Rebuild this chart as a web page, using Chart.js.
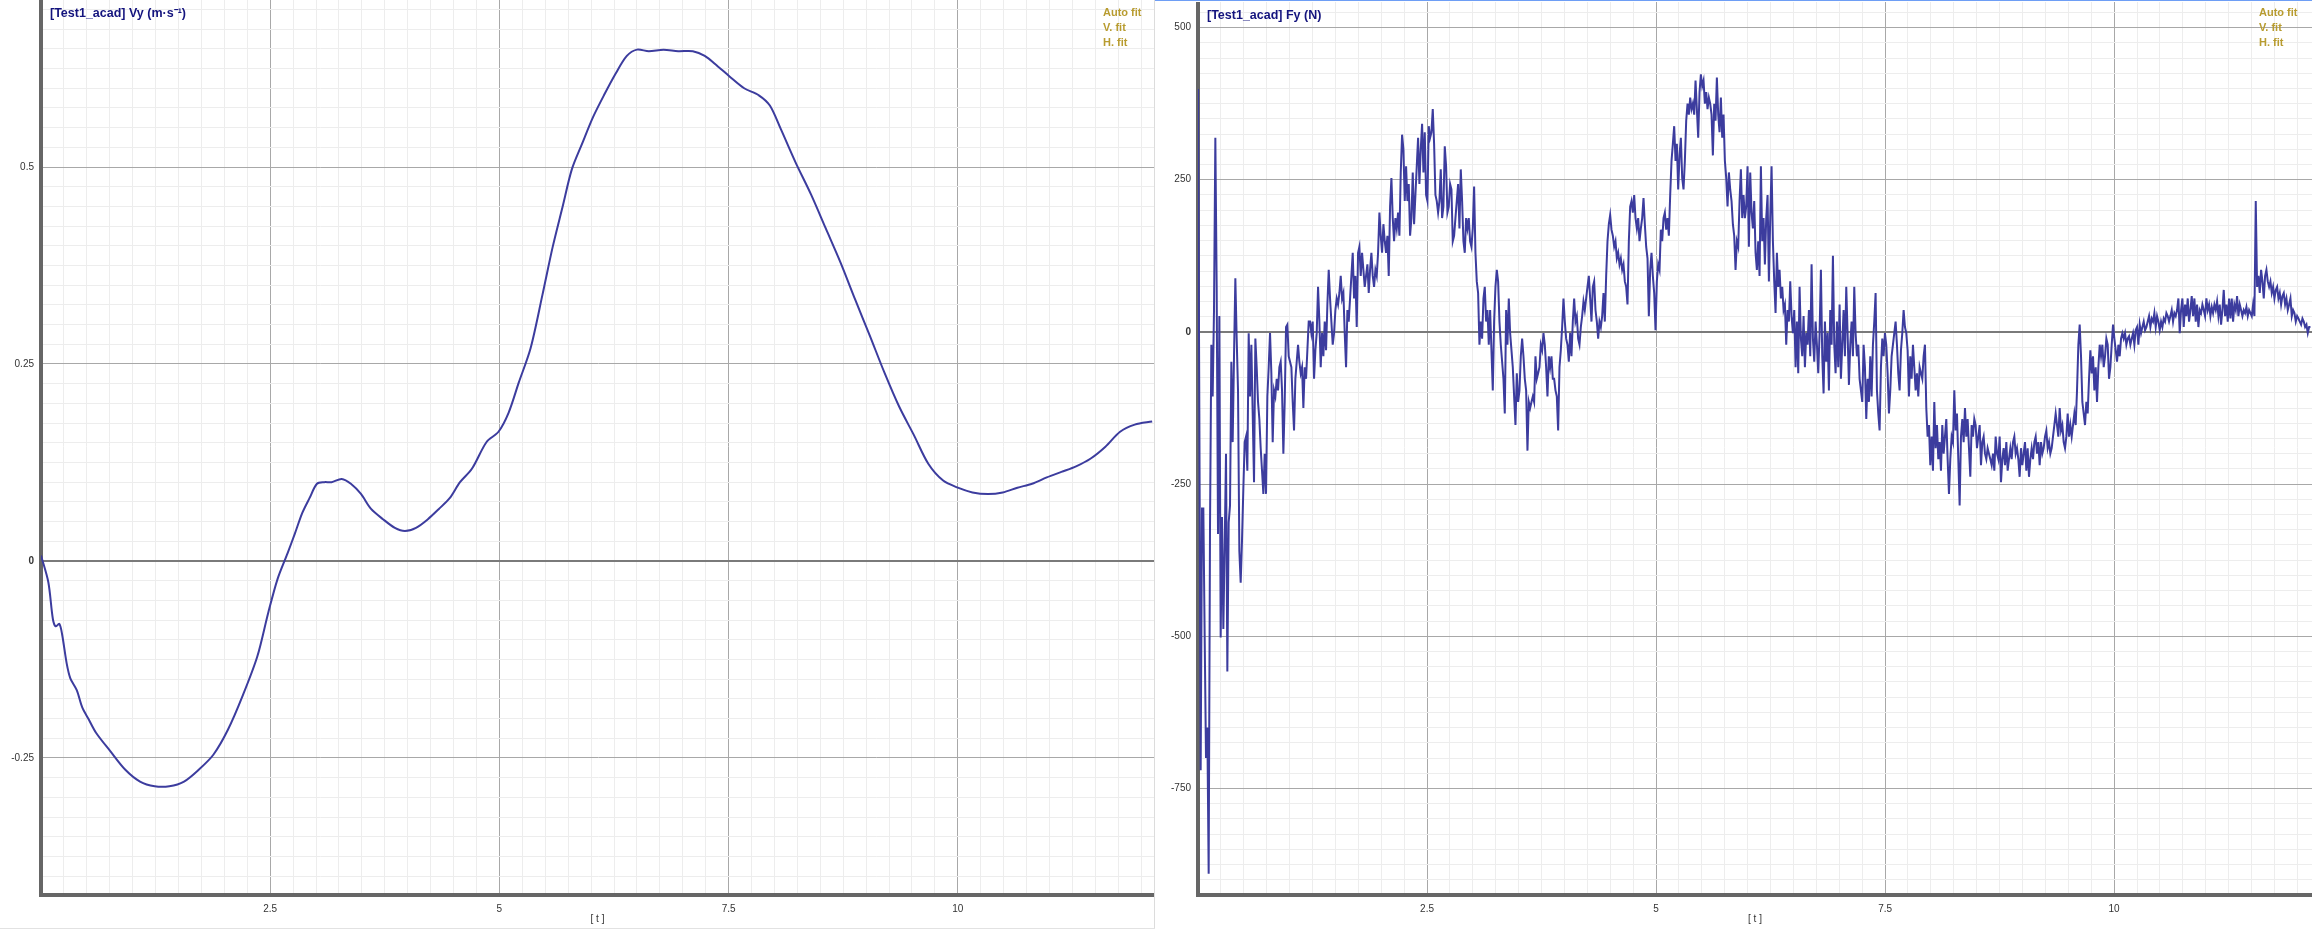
<!DOCTYPE html>
<html>
<head>
<meta charset="utf-8">
<script src="https://cdn.jsdelivr.net/npm/chart.js@4.4.0/dist/chart.umd.min.js"></script>
<style>
    html, body { margin: 0; padding: 0; background: #fff; }
    body { width: 2312px; height: 929px; position: relative; overflow: hidden; font-family: "Liberation Sans", Arial, sans-serif; }
    canvas { position: absolute; }
    .titulo { position: absolute; font-weight: bold; font-size: 12.5px; line-height: 14px; color: #14147e; white-space: nowrap; }
    .ajuste { position: absolute; font-weight: bold; font-size: 11px; line-height: 15px; color: #b89c30; white-space: nowrap; }
    .linea { position: absolute; }
</style>
</head>
<body>
<canvas id="grafico-vy" width="1155" height="929" style="left:0;top:0"></canvas>
<canvas id="grafico-fy" width="1155" height="927" style="left:1157px;top:2px"></canvas>

<div class="linea" style="left:1154px;top:0;width:1px;height:929px;background:#dcdcdc"></div>
<div class="linea" style="left:0;top:928px;width:1155px;height:1px;background:#e2e2e2"></div>
<div class="linea" style="left:1155px;top:0;width:1157px;height:1px;background:#6e9ef5"></div>

<div class="titulo" style="left:50px;top:6px">[Test1_acad] Vy (m·s⁻¹)</div>
<div class="titulo" style="left:1207px;top:8px">[Test1_acad] Fy (N)</div>
<div class="ajuste" style="left:1103px;top:5px">Auto fit<br>V. fit<br>H. fit</div>
<div class="ajuste" style="left:2259px;top:5px">Auto fit<br>V. fit<br>H. fit</div>

<script>
const vyTiempo = [0, 0.08, 0.13, 0.16, 0.2, 0.23, 0.28, 0.32, 0.39, 0.45, 0.52, 0.6, 0.76, 0.92, 1.08, 1.24, 1.4, 1.56,
    1.72, 1.88, 2.04, 2.2, 2.36, 2.48, 2.58, 2.69, 2.77, 2.85, 2.93, 3.01, 3.09, 3.17, 3.28, 3.38, 3.49, 3.6, 3.73,
    3.86, 3.97, 4.09, 4.22, 4.34, 4.46, 4.57, 4.7, 4.86, 4.99, 5.1, 5.21, 5.34, 5.47, 5.58, 5.69, 5.79, 5.9, 6.02,
    6.14, 6.27, 6.39, 6.5, 6.63, 6.79, 6.95, 7.11, 7.24, 7.38, 7.51, 7.67, 7.83, 7.95, 8.07, 8.23, 8.4, 8.56, 8.72,
    8.88, 9.04, 9.2, 9.36, 9.52, 9.68, 9.84, 10.0, 10.16, 10.33, 10.49, 10.65, 10.81, 10.97, 11.13, 11.29, 11.45,
    11.61, 11.77, 11.93, 12.12];
const vyValores = [0.007, -0.027, -0.074, -0.083, -0.08, -0.093, -0.13, -0.149, -0.164, -0.186, -0.201, -0.218,
    -0.242, -0.265, -0.28, -0.286, -0.286, -0.28, -0.265, -0.246, -0.214, -0.171, -0.121, -0.065, -0.023, 0.01,
    0.035, 0.061, 0.08, 0.098, 0.1, 0.1, 0.104, 0.098, 0.085, 0.066, 0.053, 0.042, 0.038, 0.042, 0.053, 0.066, 0.08,
    0.1, 0.117, 0.151, 0.164, 0.188, 0.226, 0.27, 0.338, 0.398, 0.45, 0.497, 0.529, 0.563, 0.591, 0.619, 0.641,
    0.649, 0.647, 0.649, 0.647, 0.647, 0.641, 0.628, 0.615, 0.6, 0.591, 0.578, 0.548, 0.506, 0.465, 0.422, 0.379,
    0.332, 0.286, 0.239, 0.196, 0.16, 0.123, 0.102, 0.093, 0.087, 0.085, 0.087, 0.093, 0.098, 0.106, 0.113, 0.12,
    0.13, 0.145, 0.164, 0.173, 0.177];

const fyPaso = 0.01456;
const fyInicio = [399, -130, -720, -290, -290, -500, -700, -650, -890, -323, -21, -106, 36, 319, 74, -332, 26,
    -502, -304, -488, -351, -200, -558, -313, -285, -49, -181, -40, 88,
    -11, -96, -360, -412, -342, -257, -181, -172, -228, -2, -106, -21, -134, -247, -11, -58, -115, -143, -191, -228,
    -266, -200, -266, -106, -58, -2, -68, -181, -96, -106, -77, -96, -58, -49, -96, -200, -115, 8, 12, -40,
    -49, -58, -115, -162, -77, -49, -21, -49, -68, -58, -125, -58, -77, -30, 17, 17, -2, 17, -77, -30,
    -2, 74, 17, -58, -2, -40, 17, -30, 45, 102, 55, 17, -21, -2, 36, 55, 45, 64, 92, 55,
    64, -2, -58, 36, 17, 55, 92, 130, 55, 92, 8, 130, 140, 92, 130, 102, 74, 92, 111, 64,
    102, 130, 92, 74, 102, 92, 130, 196, 158, 130, 177, 149, 130, 158, 92, 206, 253, 187, 149, 187,
    170, 196, 158, 262, 324, 300, 215, 272, 215, 243, 158, 187, 262, 177, 225, 272, 319, 243, 300, 342,
    262, 328, 225, 215, 338, 319, 328, 366, 309, 225, 215, 196, 215, 267, 187, 206, 305, 272, 196, 206,
    243, 234, 149, 158, 187, 215, 243, 170, 267, 215, 149, 130, 187, 170, 187, 149, 140, 170, 239, 130,
    83, 64, -21, 17, -11, 55, 74, 17, 36, -21, 36, -30, -96, 17, 74, 102, 83, 17, -21, -49,
    -77, -134, 36, -21, 55, -2, -30, -58, -106, -153, -68, -115, -96, -40, -11, -40, -77, -96, -195, -115,
    -125, -115, -106, -115, -40, -77, -68, -58, -21, -30, -2, -21, -58, -106, -40, -58, -40, -77, -77, -96,
    -106, -162, -58, -30, 8, 55, 17, -11, -21, -49, -2, -40, 17, 55];
const fyMedio = [17, 26, -11, -21, 8, 26, 50, 36, 55, 74, 92, 55, 17, 74, 83, 36, 17, -11, 17, 8,
    26, 64, 17, 92, 149, 177, 192, 168, 158, 140, 149, 121, 130, 111, 121, 102, 111, 83, 74, 45,
    149, 206, 215, 196, 225, 187, 170, 187, 149, 170, 187, 220, 177, 140, 121, 26, 102, 130, 92, 64,
    3, 83, 111, 102, 168, 149, 187, 196, 168, 187, 158, 225, 281, 309, 338, 281, 309, 234, 290, 319,
    253, 234, 281, 347, 375, 357, 385, 366, 375, 357, 413, 366, 319, 394, 423, 404, 413, 375, 394, 366,
    385, 375, 357, 290, 375, 347, 418, 357, 328, 385, 319, 357, 281, 253, 206, 262, 234, 215, 177, 158,
    102, 149, 140, 215, 267, 187, 225, 187, 206, 272, 140, 262, 196, 170, 215, 130, 102, 149, 92, 272,
    149, 187, 111, 187, 225, 83, 187, 272, 149, 83, 31, 130, 74, 102, 55, 74, 36, 45, -21, 36,
    17, 83, 26, -2, 36, -58, 17, -68, 74, -11, -40, 26, -58, -2, -21, 36, -40, 111, -11, -49,
    17, -21, -68, -2, 102, -40, -101, 17, -49, -2, -96, 36, -21, 125, -21, -68, 17, -58, 45, -77,
    -21, 36, -40, 74, -2, -87, -21, 17, -40, 74, -2, -40, -21, -77, -96, -115, -21, -58, -143, -77,
    -115, -40, -106, -21, 17, 64, -96, -134, -162, -58, -11, -40, -2, -21, -68, -134, -96, -40, -21, -2,
    17, -21, -68, -96, -30, -2, 36, 8, -2, -30, -106, -40, -77, -21, -58, -96, -68, -106, -58, -68,
    -77, -40, -21, -125, -172, -153, -219, -172, -228, -115, -191, -153, -209, -181, -228, -153, -200, -172, -143, -209,
    -266];
const fyFinal = [-209, -172, -181, -96, -162, -134, -209, -285, -172, -143, -181, -125, -172, -143, -191, -238, -153, -172, -143, -153,
    -191, -172, -153, -219, -181, -172, -200, -209, -191, -200, -209, -219, -200, -228, -172, -200, -209, -172, -247, -209,
    -191, -219, -181, -228, -209, -191, -209, -181, -172, -200, -191, -209, -238, -191, -219, -200, -181, -228, -191, -238,
    -209, -191, -209, -181, -172, -200, -181, -219, -181, -200, -191, -172, -162, -191, -181, -200, -191, -172, -153, -134,
    -153, -172, -125, -162, -153, -181, -191, -172, -134, -172, -153, -172, -153, -134, -153, -96, -21, 12, -40, -115,
    -134, -153, -115, -134, -77, -30, -68, -40, -96, -58, -115, -58, -21, -40, -21, -58, -40, -11, -21, -77,
    -58, -21, 12, -11, -30, -49, -21, -40, -11, -2, -11, -2, -21, -11, -7, -21, -11, -2, -21, 3,
    8, -21, 12, -2, 8, 17, 3, 8, 17, 26, 8, 22, 17, 31, 8, 26, 17, 3, 17, 8,
    22, 17, 31, 26, 17, 26, 36, 17, 31, 26, 36, 55, -2, 36, 55, 8, 45, 26, 55, 17,
    36, 59, 26, 55, 17, 45, 8, 36, 31, 45, 36, 26, 55, 36, 45, 26, 41, 31, 45, 36,
    50, 26, 45, 12, 36, 69, 26, 45, 17, 55, 22, 55, 17, 45, 36, 59, 26, 45, 36, 26,
    36, 31, 41, 26, 36, 31, 26, 45, 26, 215, 74, 92, 64, 102, 83, 55, 92, 102, 83, 74,
    83, 64, 74, 55, 69, 74, 55, 64, 45, 59, 64, 45, 55, 36, 45, 55, 26, 36, 31, 17,
    26, 22, 17, 12, 22, 17, 8, 12, -2, 8, 8];

// ✅ Etiquetas de los ejes
const etiquetasX = ['2.5', '5', '7.5', '10'];
const etiquetasVy = ['0.5', '0.25', '0', '-0.25'];
const etiquetasFy = ['500', '250', '0', '-250', '-500', '-750'];

const FUENTE = '"Liberation Sans", Arial, sans-serif';

function texto(valor) {
    return String(Math.round(valor * 1000) / 1000);
}

// ✅ Color de la cuadrícula: principal, secundaria o línea del cero
function colorRejilla(ctx, etiquetas) {
    const t = texto(ctx.tick.value);
    if (t === '0') return '#7a7a7a';
    return etiquetas.includes(t) ? '#a8a8a8' : '#ededed';
}

// ✅ Función para dibujar un panel
function crearGrafico(idCanvas, puntos, cfg) {
    const ctx = document.getElementById(idCanvas).getContext('2d');

    return new Chart(ctx, {
        type: 'line',
        data: {
            datasets: [{
                data: puntos,
                borderColor: '#3c3c9e',
                borderWidth: cfg.grosor,
                pointRadius: 0,
                tension: cfg.tension,
                fill: false
            }]
        },
        options: {
            responsive: false,
            animation: false,
            events: [],
            layout: { padding: { top: 0, right: cfg.margenDerecho, bottom: 0, left: 0 } },
            plugins: {
                legend: { display: false },
                tooltip: { enabled: false }
            },
            scales: {
                x: {
                    type: 'linear',
                    min: 0,
                    max: cfg.xMax,
                    afterFit: s => {
                        s.height = cfg.altoEjeX;
                        s.paddingLeft = 0;
                        s.paddingRight = 0;
                    },
                    title: {
                        display: true,
                        text: '[ t ]',
                        color: '#333',
                        font: { family: FUENTE, size: 10 },
                        padding: { top: 0, bottom: 4 }
                    },
                    ticks: {
                        stepSize: 0.25,
                        autoSkip: false,
                        includeBounds: false,
                        maxRotation: 0,
                        padding: 8,
                        color: '#333',
                        font: { family: FUENTE, size: 10 },
                        callback: v => etiquetasX.includes(texto(v)) ? texto(v) : ''
                    },
                    grid: {
                        drawTicks: false,
                        color: c => colorRejilla(c, etiquetasX),
                        lineWidth: 1
                    },
                    border: { color: '#666', width: 4 }
                },
                y: {
                    min: cfg.yMin,
                    max: cfg.yMax,
                    afterFit: s => {
                        s.width = 41;
                        s.paddingTop = 0;
                        s.paddingBottom = 0;
                    },
                    ticks: {
                        stepSize: cfg.pasoY,
                        autoSkip: false,
                        includeBounds: false,
                        padding: 7,
                        color: '#333',
                        font: c => ({
                            family: FUENTE,
                            size: 10,
                            weight: (c.tick && texto(c.tick.value) === '0') ? 'bold' : 'normal'
                        }),
                        callback: v => cfg.etiquetasY.includes(texto(v)) ? texto(v) : ''
                    },
                    grid: {
                        drawTicks: false,
                        color: c => colorRejilla(c, cfg.etiquetasY),
                        lineWidth: c => texto(c.tick.value) === '0' ? 2 : 1
                    },
                    border: { color: '#666', width: 4 }
                }
            }
        }
    });
}

const puntosVy = vyTiempo.map((t, i) => ({ x: t, y: vyValores[i] }));
const puntosFy = [...fyInicio, ...fyMedio, ...fyFinal].map((v, i) => ({ x: i * fyPaso, y: v }));

crearGrafico('grafico-vy', puntosVy, {
    grosor: 2, tension: 0.3, margenDerecho: 1, xMax: 12.14, altoEjeX: 34,
    yMin: -0.424, yMax: 0.712, pasoY: 0.025, etiquetasY: etiquetasVy
});

crearGrafico('grafico-fy', puntosFy, {
    grosor: 2, tension: 0, margenDerecho: 0, xMax: 12.16, altoEjeX: 34,
    yMin: -925, yMax: 542, pasoY: 25, etiquetasY: etiquetasFy
});
</script>
</body>
</html>
